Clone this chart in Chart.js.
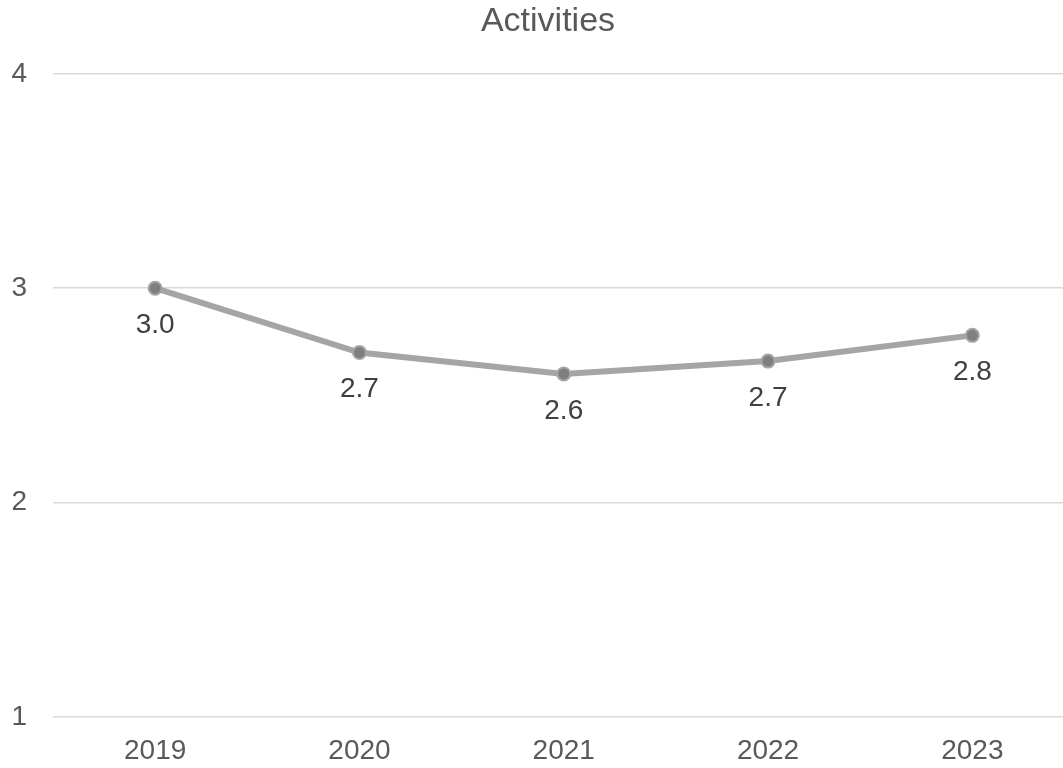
<!DOCTYPE html>
<html>
<head>
<meta charset="utf-8">
<script src="https://cdn.jsdelivr.net/npm/chart.js@4"></script>
<style>
  html, body { margin: 0; padding: 0; background: #fff; overflow: hidden; }
  #wrap { width: 1096px; height: 768px; position: relative; }
</style>
</head>
<body>
<div id="wrap"><canvas id="activityChart"></canvas></div>
<script>
const years = ["2019", "2020", "2021", "2022", "2023"];
const activityScores = [3.0, 2.7, 2.6, 2.66, 2.78];
const yTicks = [1, 2, 3, 4];

const FONT = "'Liberation Sans', Arial, sans-serif";

// draws the value under each point (no datalabels plugin offline)
const pointLabels = {
    id: "pointLabels",
    afterLayout(chart) {
        // the original chart is cropped on the right; center title on full width
        if (chart.titleBlock) chart.titleBlock.right = chart.width;
    },
    afterDatasetsDraw(chart) {
        const ctx = chart.ctx;
        const meta = chart.getDatasetMeta(0);
        ctx.save();
        ctx.font = "28px " + FONT;
        ctx.fillStyle = "#404040";
        ctx.textAlign = "center";
        ctx.textBaseline = "middle";
        meta.data.forEach((pt, i) => {
            ctx.fillText(activityScores[i].toFixed(1), pt.x, pt.y + 37);
        });
        ctx.restore();
    }
};

const ctx = document.getElementById("activityChart").getContext("2d");
new Chart(ctx, {
    type: "line",
    data: {
        labels: years,
        datasets: [{
            label: "Activities",
            data: activityScores,
            borderColor: "#a5a5a5",
            borderWidth: 6,
            pointRadius: 6.5,
            pointBackgroundColor: "#7f7f7f",
            pointBorderColor: "#a5a5a5",
            pointBorderWidth: 2,
            tension: 0
        }]
    },
    options: {
        responsive: true,
        maintainAspectRatio: false,
        animation: false,
        layout: { padding: { left: 0, right: 21.5, top: 0, bottom: 0 } },
        scales: {
            x: {
                offset: true,
                afterFit(scale) { scale.height = 51; },
                grid: { display: false, drawTicks: false },
                border: { display: false },
                ticks: {
                    color: "#595959",
                    font: { family: FONT, size: 28 },
                    padding: 17
                }
            },
            y: {
                min: 1,
                max: 4,
                afterBuildTicks(scale) {
                    scale.ticks = yTicks.map(v => ({ value: v }));
                },
                afterFit(scale) { scale.width = 53; },
                grid: { color: "#d9d9d9", lineWidth: 1.5, drawTicks: false },
                border: { display: false },
                ticks: {
                    color: "#595959",
                    font: { family: FONT, size: 28 },
                    padding: 26
                }
            }
        },
        plugins: {
            legend: { display: false },
            tooltip: { enabled: false },
            title: {
                display: true,
                text: "Activities",
                color: "#595959",
                font: { family: FONT, size: 34, weight: "normal" },
                padding: { top: 1, bottom: 32 }
            }
        }
    },
    plugins: [pointLabels]
});
</script>
</body>
</html>
